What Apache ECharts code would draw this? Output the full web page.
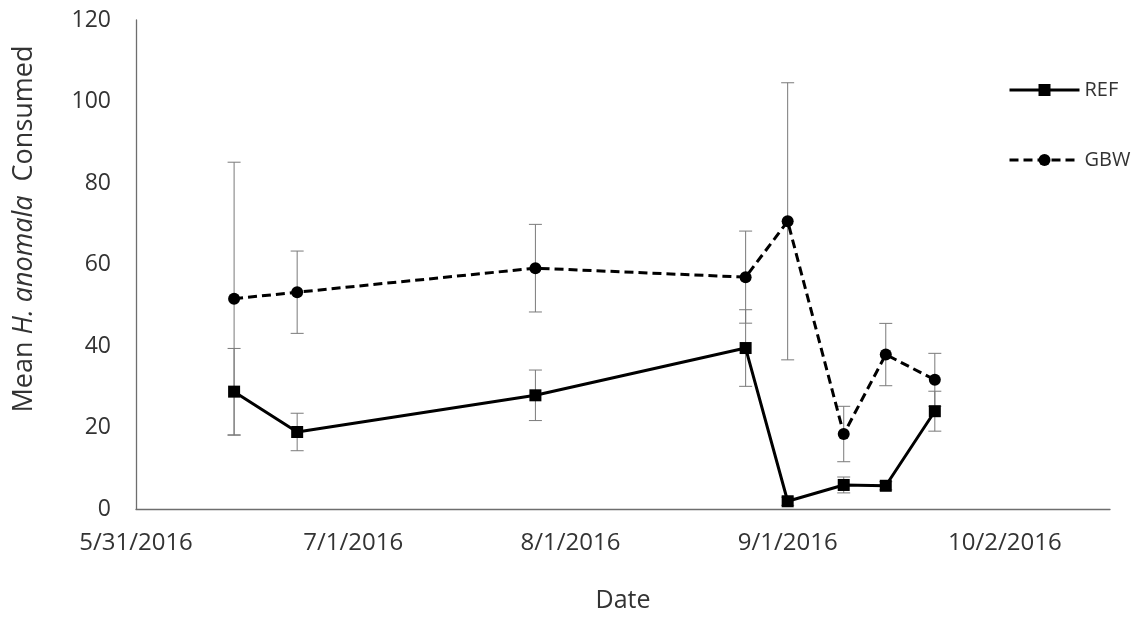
<!DOCTYPE html>
<html>
<head>
<meta charset="utf-8">
<script src="https://cdn.jsdelivr.net/npm/echarts@6/dist/echarts.min.js"></script>
<style>
  html, body { margin: 0; padding: 0; background: #ffffff; }
  #chart { width: 1133px; height: 618px; }
</style>
</head>
<body>
<div id="chart"></div>
<script>
// ---- data ----
const dates = ['2016-06-14', '2016-06-23', '2016-07-27', '2016-08-26', '2016-09-01', '2016-09-09', '2016-09-15', '2016-09-22'];
const refMean = [28.8, 18.9, 27.9, 39.5, 1.9, 5.9, 5.7, 24.0];
const refErr  = [10.6, 4.6, 6.2, 9.4, 1.0, 1.95, 1.0, 4.9];
const gbwMean = [51.6, 53.2, 59.1, 56.9, 70.6, 18.4, 37.9, 31.7];
const gbwErr  = [33.5, 10.1, 10.75, 11.3, 34.0, 6.8, 7.65, 6.5];
const xTickLabels = ['5/31/2016', '7/1/2016', '8/1/2016', '9/1/2016', '10/2/2016'];
const axisStartDate = '2016-05-31';
const axisEndDate = '2016-10-17';
const xTickStepDays = 31;

const DAY = 86400000;
const t0 = Date.parse(axisStartDate);
const toDay = d => Math.round((Date.parse(d) - t0) / DAY);
const xDays = dates.map(toDay);

const refData = xDays.map((x, i) => [x, refMean[i]]);
const gbwData = xDays.map((x, i) => [x, gbwMean[i]]);
const refErrData = xDays.map((x, i) => [x, refMean[i], refErr[i]]);
const gbwErrData = xDays.map((x, i) => [x, gbwMean[i], gbwErr[i]]);

const FONT = "'Open Sans', 'Noto Sans', sans-serif";
const TEXT = '#333333';
const AXIS = '#6e6e6e';
const ERR = '#7a7a7a';

function errRender(params, api) {
  const x = api.value(0), m = api.value(1), e = api.value(2);
  const top = api.coord([x, m + e]);
  const bot = api.coord([x, m - e]);
  const hw = 6.5;
  const style = { stroke: ERR, lineWidth: 1 };
  return {
    type: 'group',
    children: [
      { type: 'line', shape: { x1: top[0], y1: top[1], x2: bot[0], y2: bot[1] }, style },
      { type: 'line', shape: { x1: top[0] - hw, y1: top[1], x2: top[0] + hw, y2: top[1] }, style },
      { type: 'line', shape: { x1: bot[0] - hw, y1: bot[1], x2: bot[0] + hw, y2: bot[1] }, style }
    ]
  };
}

const chart = echarts.init(document.getElementById('chart'), null, { renderer: 'canvas' });
chart.setOption({
  animation: false,
  backgroundColor: '#ffffff',
  textStyle: { fontFamily: FONT },
  grid: { left: 136, right: 23, top: 20, bottom: 105, containLabel: false },
  legend: {
    orient: 'vertical',
    left: 1003,
    top: 75,
    itemWidth: 70,
    itemHeight: 15,
    itemGap: 50,
    lineStyle: { width: 3 },
    textStyle: { fontFamily: FONT, fontSize: 20, color: TEXT },
    data: ['REF', 'GBW']
  },
  xAxis: {
    type: 'value',
    min: 0,
    max: toDay(axisEndDate),
    interval: xTickStepDays,
    name: 'Date',
    nameLocation: 'middle',
    nameGap: 79,
    nameTextStyle: { fontFamily: FONT, fontSize: 25, color: TEXT },
    axisLine: { show: true, onZero: false, lineStyle: { color: AXIS, width: 1.3 } },
    axisTick: { show: false },
    splitLine: { show: false },
    axisLabel: {
      margin: 22,
      fontFamily: FONT,
      fontSize: 24,
      color: TEXT,
      showMaxLabel: false,
      formatter: v => (v % xTickStepDays === 0 ? (xTickLabels[v / xTickStepDays] || '') : '')
    }
  },
  yAxis: {
    type: 'value',
    min: 0,
    max: 120,
    interval: 20,
    axisLine: { show: true, lineStyle: { color: AXIS, width: 1.3 } },
    axisTick: { show: false },
    splitLine: { show: false },
    axisLabel: { margin: 25, fontFamily: FONT, fontSize: 23, color: TEXT }
  },
  graphic: [{
    type: 'text',
    x: 24,
    y: 229,
    rotation: Math.PI / 2,
    style: {
      text: '{n|Mean }{i|H. anomala}{n|  Consumed}',
      align: 'center',
      verticalAlign: 'middle',
      rich: {
        n: { fontFamily: FONT, fontSize: 27, fill: TEXT },
        i: { fontFamily: FONT, fontSize: 27, fontStyle: 'italic', fill: TEXT }
      }
    }
  }],
  series: [
    {
      name: 'REF err', type: 'custom', renderItem: errRender, data: refErrData,
      encode: { x: 0, y: [1] }, z: 1, silent: true
    },
    {
      name: 'GBW err', type: 'custom', renderItem: errRender, data: gbwErrData,
      encode: { x: 0, y: [1] }, z: 1, silent: true
    },
    {
      name: 'REF', type: 'line', data: refData, z: 3,
      symbol: 'rect', symbolSize: 12,
      lineStyle: { color: '#000', width: 3, type: 'solid' },
      itemStyle: { color: '#000' }
    },
    {
      name: 'GBW', type: 'line', data: gbwData, z: 2,
      symbol: 'circle', symbolSize: 12,
      lineStyle: { color: '#000', width: 3, type: [9, 5] },
      itemStyle: { color: '#000' }
    }
  ]
});
</script>
</body>
</html>
